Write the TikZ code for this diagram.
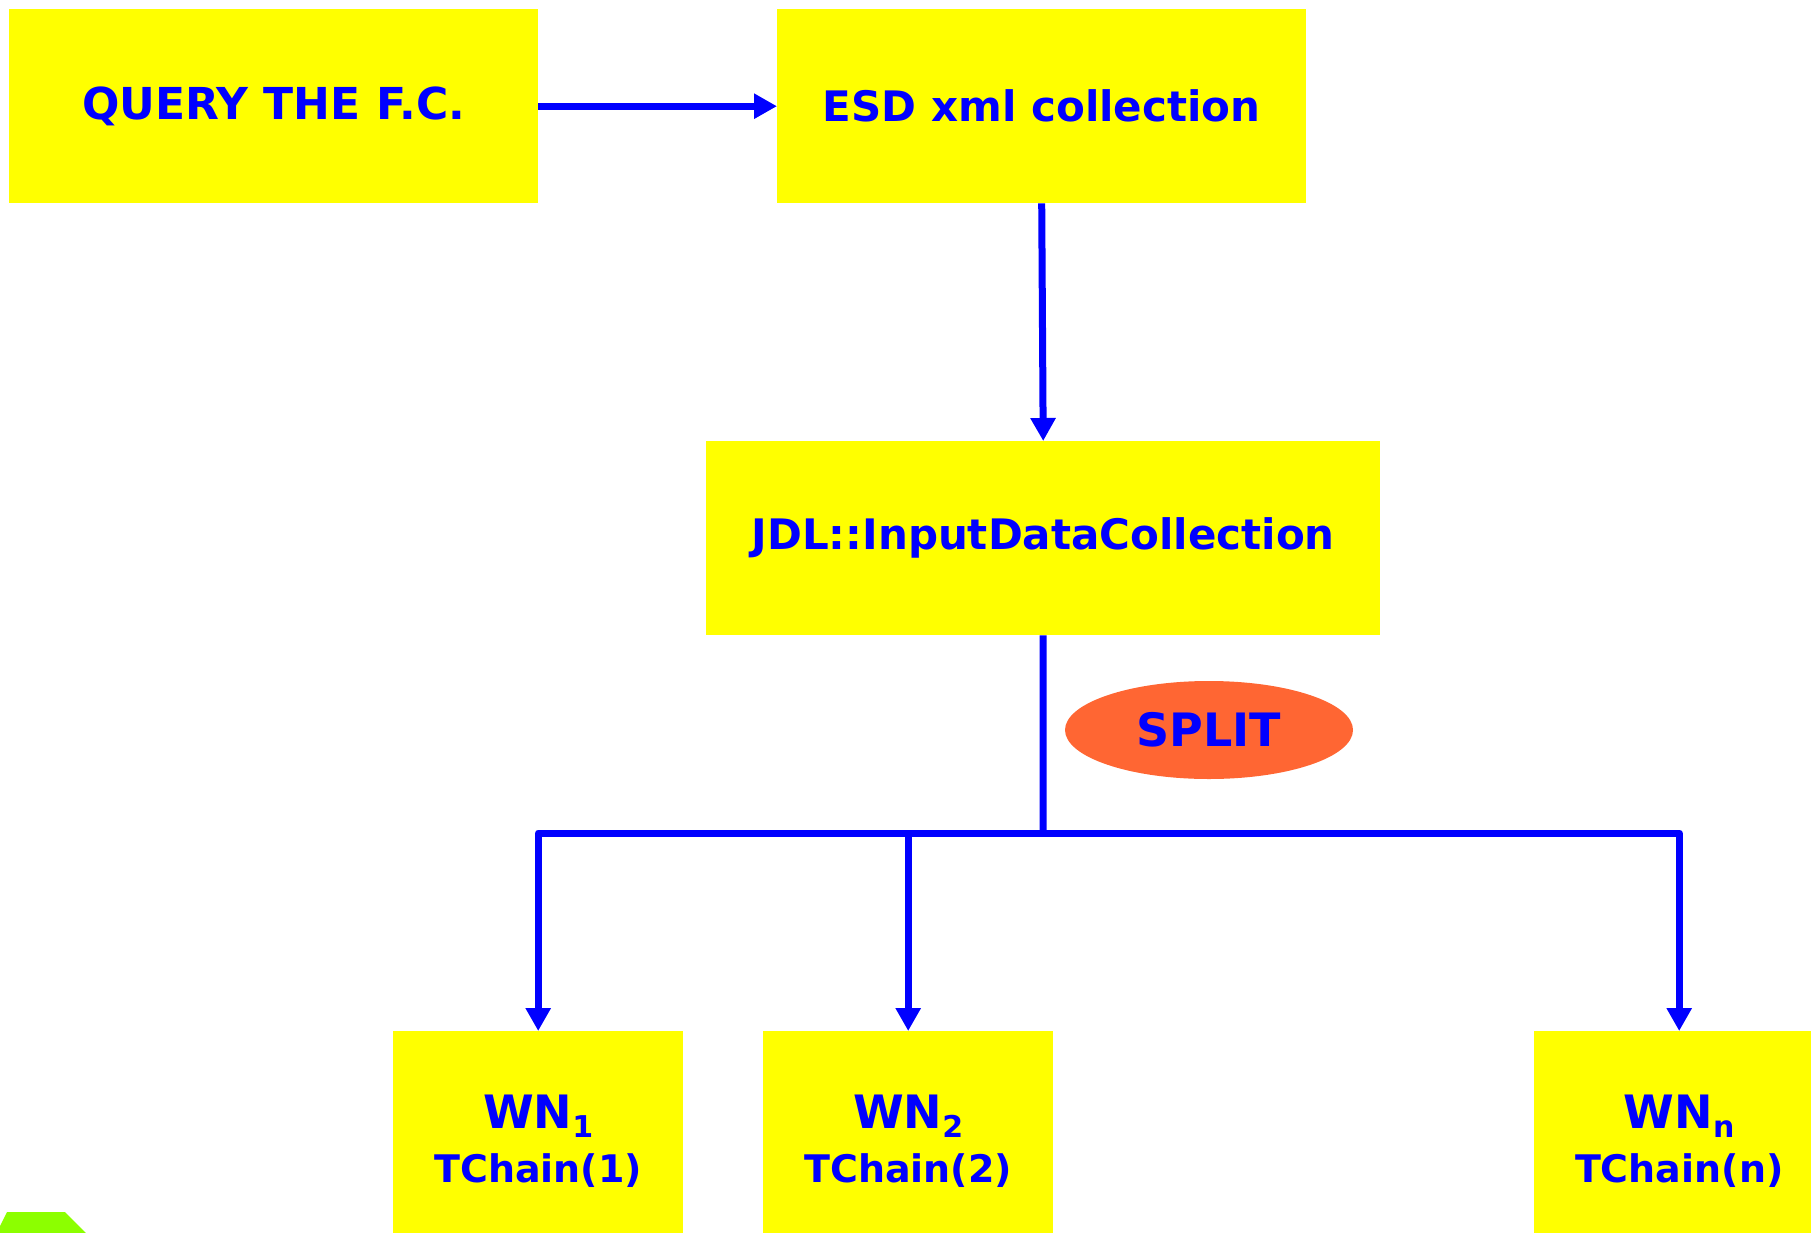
\documentclass[tikz,border=0pt]{standalone}
\usepackage{fontspec}
\setmainfont{DejaVu Sans}
\usetikzlibrary{arrows.meta,shapes.geometric}
\definecolor{boxyellow}{RGB}{255,255,0}
\definecolor{txtblue}{RGB}{0,0,255}
\definecolor{splitorange}{RGB}{255,102,51}
\definecolor{cornergreen}{RGB}{140,255,0}
\newcommand{\wnlabel}[1]{{\fontsize{46}{54}\selectfont WN\raisebox{-0.35ex}{\fontsize{30}{30}\selectfont #1}}\\TChain(#1)}
\begin{document}
\begin{tikzpicture}[x=1pt,y=-1pt,
  box/.style={fill=boxyellow,draw=none,inner sep=0pt,anchor=north west,
    text=txtblue,font=\bfseries\fontsize{44}{52}\selectfont,align=center},
  wnbox/.style={box,minimum width=290pt,minimum height=220pt,
    font=\bfseries\fontsize{38}{54}\selectfont},
  conn/.style={draw=txtblue,line width=7pt,-{Triangle[length=23pt,width=24pt]}},
  wire/.style={draw=txtblue,line width=7pt,line join=round}]
\useasboundingbox (0,0) rectangle (1811,1233);
\fill[cornergreen] (0,1226) -- (7,1212) -- (65,1212) -- (86,1233) -- (0,1233) -- cycle;
\node[box,minimum width=529pt,minimum height=194pt] (q) at (9,9) {QUERY THE F.C.};
\node[box,minimum width=529pt,minimum height=194pt,font=\bfseries\fontsize{42}{50}\selectfont] (e) at (777,9) {ESD xml collection};
\node[box,minimum width=674pt,minimum height=194pt,font=\bfseries\fontsize{42}{50}\selectfont] (j) at (706,441) {JDL::InputDataCollection};
\node[ellipse,fill=splitorange,draw=none,minimum width=288pt,minimum height=98pt,inner sep=0pt,
  text=txtblue,font=\bfseries\fontsize{46}{52}\selectfont] (s) at (1209,730) {SPLIT};
\node[wnbox] (w1) at (393,1031) {\wnlabel{1}};
\node[wnbox] (w2) at (763,1031) {\wnlabel{2}};
\node[wnbox] (wn) at (1534,1031) {\wnlabel{n}};
\coordinate (split) at (1043,833);
\draw[conn] (q.east) -- (e.west);
\draw[conn] (e.south) -- (j.north);
\draw[wire] (j.south) -- (split);
\draw[conn,line join=round] (split) -| (w1.north);
\draw[conn,line join=round] (split) -| (wn.north);
\draw[conn] (w2.north |- split) -- (w2.north);
\end{tikzpicture}
\end{document}
